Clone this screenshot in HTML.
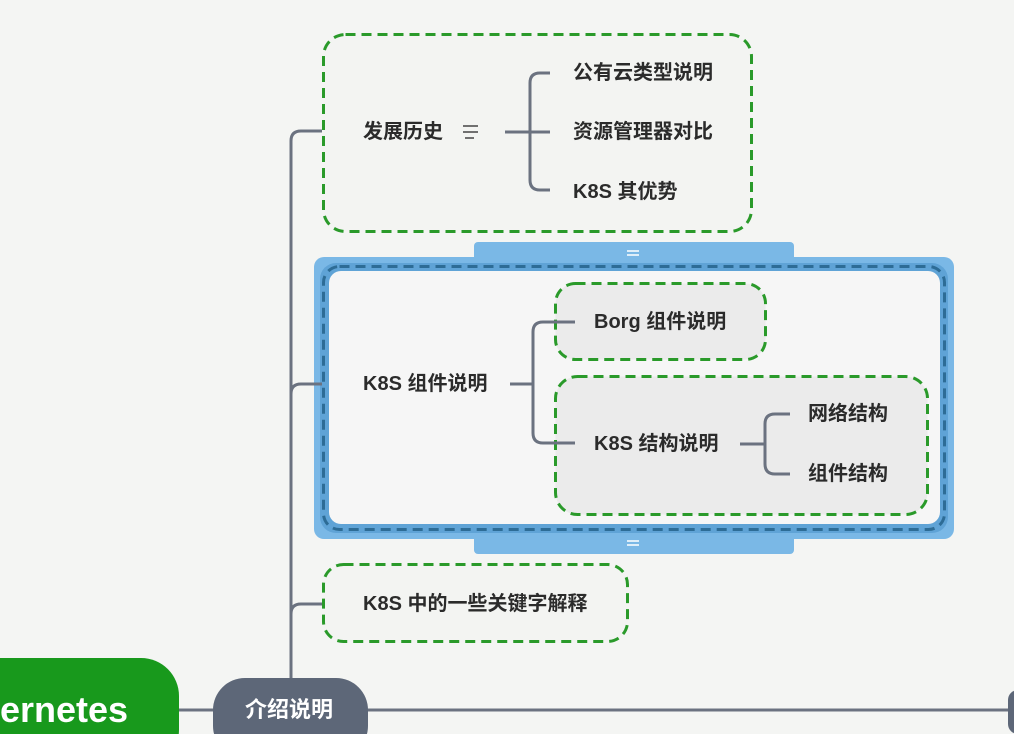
<!DOCTYPE html>
<html><head><meta charset="utf-8"><style>
html,body{margin:0;width:1014px;height:734px;overflow:hidden}
body{background:#f4f5f3;font-family:"Liberation Sans","Noto Sans CJK SC",sans-serif;position:relative}
.t{position:absolute;font-weight:bold;font-size:20px;color:#2b2b2b;line-height:24px;white-space:nowrap}
</style></head><body>
<div style="position:absolute;left:474px;top:242px;width:320px;height:20px;background:#7ab8e6;border-radius:4px"></div>
<div style="position:absolute;left:474px;top:534px;width:320px;height:20px;background:#7ab8e6;border-radius:4px"></div>
<div style="position:absolute;left:314px;top:257px;width:640px;height:282px;background:#7ab8e6;border-radius:10px"></div>
<div style="position:absolute;left:320px;top:263px;width:628px;height:270px;background:#5fa3d6;border-radius:16px"></div>
<div style="position:absolute;left:329px;top:271px;width:611px;height:253px;background:#f6f6f6;border-radius:12px"></div>
<svg width="1014" height="734" style="position:absolute;left:0;top:0" fill="none" stroke-width="3">
<g stroke="#2a9a2a" stroke-dasharray="10 6">
<rect x="323.5" y="34.5" width="428" height="197" rx="22" fill="#f3f4f2"/>
<rect x="555.5" y="283.5" width="210" height="76" rx="20" fill="#ebebeb"/>
<rect x="555.5" y="376.5" width="372" height="138" rx="22" fill="#ebebeb"/>
<rect x="323.5" y="564.5" width="304" height="77" rx="20" fill="#f3f4f2"/>
</g>
<rect x="323.5" y="266.5" width="621" height="263" rx="16" stroke="#2d6c96" stroke-dasharray="10 6"/>
<g stroke="#6b7280">
<path d="M322 131 H301 Q291 131 291 141 V680"/>
<path d="M322 384 H301 Q291 384 291 394"/>
<path d="M322 604 H301 Q291 604 291 614"/>
<path d="M505 132 H530 M550 73 H540 Q530 73 530 83 V180 Q530 190 540 190 H550 M530 132 H550"/>
<path d="M510 384 H533 M575 322 H543 Q533 322 533 332 V433 Q533 443 543 443 H575"/>
<path d="M740 444 H765 M790 414 H775 Q765 414 765 424 V464 Q765 474 775 474 H790"/>
<path d="M170 710 H215 M365 710 H1014"/>
</g>
<path d="M463 126 H478 M463 132 H478 M465 138 H474" stroke-width="1.5" stroke="#444"/>
<path d="M627 251 H639 M627 255 H639 M627 541 H639 M627 545 H639" stroke="#fff" stroke-width="1.5"/>
</svg>
<div style="position:absolute;left:-40px;top:658px;width:219px;height:110px;background:#18991c;border-radius:38px"></div>
<div style="position:absolute;left:0;top:689px;color:#fff;font-size:36px;font-weight:bold;line-height:42px">ernetes</div>
<div style="position:absolute;left:213px;top:678px;width:155px;height:80px;background:#5d6778;border-radius:32px"></div>
<div class="t" style="left:245px;top:698px;color:#fff;font-size:22px">介绍说明</div>
<div style="position:absolute;left:1008px;top:690px;width:20px;height:44px;background:#5d6778;border-radius:10px"></div>
<div class="t" style="left:363px;top:120px">发展历史</div>
<div class="t" style="left:573px;top:61px">公有云类型说明</div>
<div class="t" style="left:573px;top:120px">资源管理器对比</div>
<div class="t" style="left:573px;top:180px">K8S 其优势</div>
<div class="t" style="left:363px;top:372px">K8S 组件说明</div>
<div class="t" style="left:594px;top:310px">Borg 组件说明</div>
<div class="t" style="left:594px;top:432px">K8S 结构说明</div>
<div class="t" style="left:808px;top:402px">网络结构</div>
<div class="t" style="left:808px;top:462px">组件结构</div>
<div class="t" style="left:363px;top:592px">K8S 中的一些关键字解释</div>
</body></html>
